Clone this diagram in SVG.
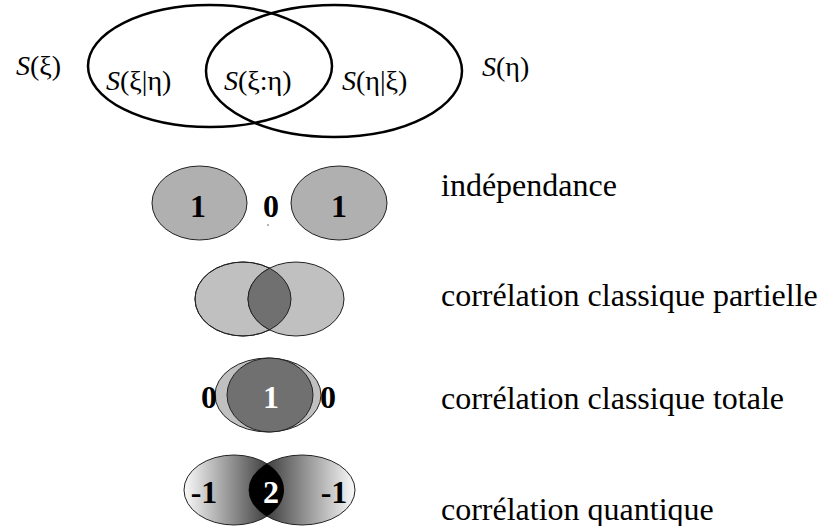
<svg xmlns="http://www.w3.org/2000/svg" width="825" height="526" viewBox="0 0 825 526">
<style>
.lbl{font-family:"Liberation Serif",serif;font-size:28px;fill:#000}
.it{font-style:italic}
.desc{font-family:"Liberation Serif",serif;font-size:32px;fill:#000}
.num{font-family:"Liberation Serif",serif;font-size:32px;font-weight:bold;text-anchor:middle}
.big{fill:none;stroke:#000;stroke-width:2.5}
.sm{stroke:#222;stroke-width:1}
</style>
<defs>
<clipPath id="c3"><ellipse cx="243" cy="299" rx="48" ry="37"/></clipPath>
<clipPath id="c5"><ellipse cx="234" cy="490" rx="50" ry="35"/></clipPath>
<linearGradient id="gl" gradientUnits="userSpaceOnUse" x1="184" y1="0" x2="284" y2="0">
<stop offset="0" stop-color="#fafafa"/><stop offset="0.5" stop-color="#8c8c8c"/><stop offset="1" stop-color="#1a1a1a"/>
</linearGradient>
<linearGradient id="gr" gradientUnits="userSpaceOnUse" x1="249" y1="0" x2="355" y2="0">
<stop offset="0" stop-color="#1a1a1a"/><stop offset="0.5" stop-color="#8c8c8c"/><stop offset="1" stop-color="#fafafa"/>
</linearGradient>
</defs>
<g id="venn-top">
<ellipse class="big" cx="210" cy="66" rx="122" ry="61"/>
<ellipse class="big" cx="334" cy="71" rx="128" ry="66"/>
<text class="lbl" x="16" y="75"><tspan class="it">S</tspan>(ξ)</text>
<text class="lbl" x="106" y="90"><tspan class="it">S</tspan>(ξ|η)</text>
<text class="lbl" x="224" y="90"><tspan class="it">S</tspan>(ξ:η)</text>
<text class="lbl" x="342" y="90"><tspan class="it">S</tspan>(η|ξ)</text>
<text class="lbl" x="482" y="76"><tspan class="it">S</tspan>(η)</text>
</g>
<g id="independance">
<ellipse class="sm" cx="199.5" cy="203" rx="47.5" ry="37" fill="#b0b0b0"/>
<ellipse class="sm" cx="339" cy="203" rx="48" ry="37" fill="#b0b0b0"/>
<text class="num" x="198" y="217">1</text>
<text class="num" x="271" y="217">0</text>
<text class="num" x="339" y="217">1</text>
<circle cx="268" cy="225" r="0.8" fill="#555"/>
<text class="desc" x="441" y="196">indépendance</text>
</g>
<g id="partielle">
<ellipse class="sm" cx="243" cy="299" rx="48" ry="37" fill="#c0c0c0"/>
<ellipse class="sm" cx="296" cy="299" rx="48" ry="37" fill="#c0c0c0"/>
<ellipse class="sm" cx="296" cy="299" rx="48" ry="37" fill="#707070" clip-path="url(#c3)"/>
<ellipse cx="243" cy="299" rx="48" ry="37" fill="none" stroke="#222" stroke-width="1"/>
<text class="desc" x="441" y="306">corrélation classique partielle</text>
</g>
<g id="totale">
<ellipse class="sm" cx="268" cy="395" rx="53" ry="37" fill="#c0c0c0"/>
<ellipse class="sm" cx="270" cy="395" rx="43" ry="37" fill="#707070"/>
<text class="num" x="209" y="408">0</text>
<text class="num" x="271" y="408" fill="#fff">1</text>
<text class="num" x="328" y="408">0</text>
<text class="desc" x="441" y="409">corrélation classique totale</text>
</g>
<g id="quantique">
<ellipse class="sm" cx="234" cy="490" rx="50" ry="35" fill="url(#gl)"/>
<ellipse class="sm" cx="302" cy="490" rx="53" ry="35" fill="url(#gr)"/>
<ellipse cx="302" cy="490" rx="53" ry="35" fill="#000" clip-path="url(#c5)"/>
<text class="num" x="204" y="503">-1</text>
<text class="num" x="271" y="503" fill="#fff">2</text>
<text class="num" x="334" y="503">-1</text>
<text class="desc" x="441" y="520">corrélation quantique</text>
</g>
<g id="connectors"/>
</svg>
